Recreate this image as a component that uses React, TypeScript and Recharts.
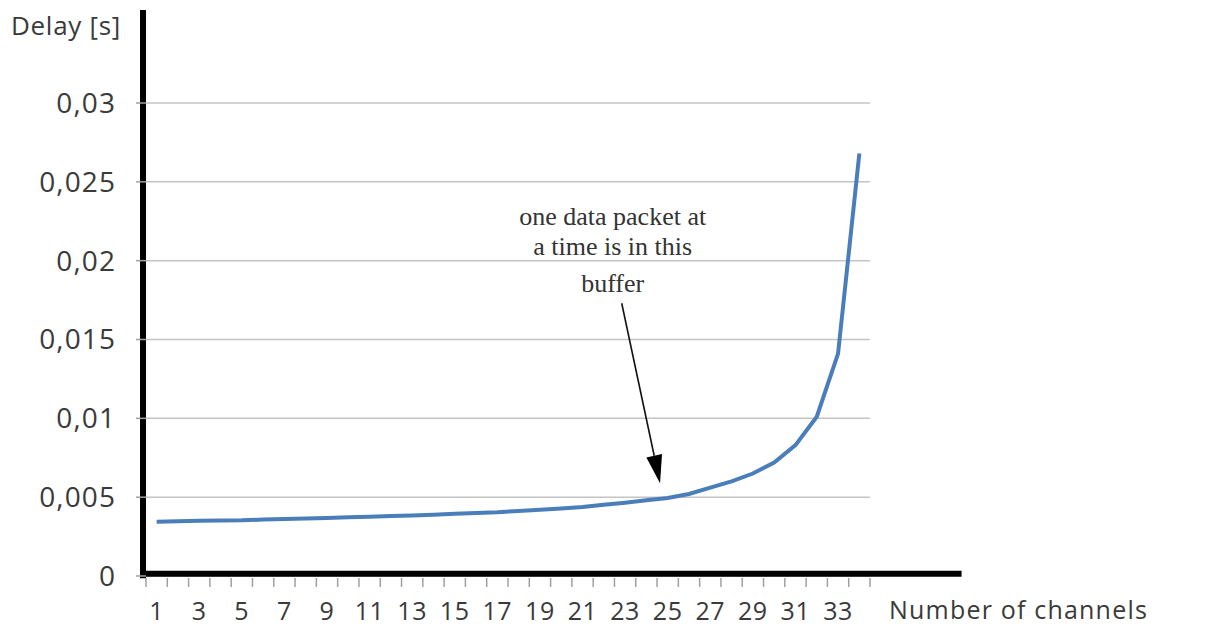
import React from "react";
import {
  LineChart,
  Line,
  XAxis,
  YAxis,
  CartesianGrid,
  ReferenceLine,
  Label,
} from "recharts";

// number of channels (categories) and measured delay in seconds
const CHANNELS = [
  1, 2, 3, 4, 5, 6, 7, 8, 9, 10, 11, 12, 13, 14, 15, 16, 17,
  18, 19, 20, 21, 22, 23, 24, 25, 26, 27, 28, 29, 30, 31, 32, 33, 34,
];
const DELAY = [
  0.00344, 0.00348, 0.0035, 0.00352, 0.00353, 0.00358, 0.00362, 0.00365,
  0.00368, 0.00372, 0.00376, 0.0038, 0.00384, 0.00389, 0.00395, 0.004,
  0.00405, 0.00413, 0.0042, 0.00428, 0.00437, 0.00452, 0.00465, 0.0048,
  0.00495, 0.0052, 0.0056, 0.006, 0.0065, 0.0072, 0.0083, 0.0101, 0.0141,
  0.0268,
];
const Y_TICKS = [0, 0.005, 0.01, 0.015, 0.02, 0.025, 0.03];
const NOTE_LINES = ["one data packet at", "a time is in this", "buffer"];

const data = CHANNELS.map((ch, i) => ({ ch, delay: DELAY[i] }));

// tick marks sit between categories, labels on odd channel numbers
const xTicks: number[] = [CHANNELS[0] - 0.5];
CHANNELS.forEach((c) => xTicks.push(c, c + 0.5));

const TEXT = "#3a3a3a";
const AXIS_FONT = "'Open Sans', sans-serif";

function XTick(props: any) {
  const { x, y, payload } = props;
  const v = payload.value;
  if (!Number.isInteger(v)) {
    return <line x1={x} x2={x} y1={y + 2} y2={y + 11} stroke="#a0a0a0" strokeWidth={1.5} />;
  }
  if (v % 2 === 0) return <g />;
  return (
    <text
      x={x}
      y={y + 44}
      textAnchor="middle"
      fill={TEXT}
      fontSize={25}
      fontFamily={AXIS_FONT}
      letterSpacing={0.6}
    >
      {v}
    </text>
  );
}

function ArrowNote(props: any) {
  const { x1, y1, x2, y2 } = props;
  const dx = x2 - x1;
  const dy = y2 - y1;
  const len = Math.sqrt(dx * dx + dy * dy);
  const ux = dx / len;
  const uy = dy / len;
  const headLen = 28;
  const half = 8;
  const bx = x2 - ux * headLen;
  const by = y2 - uy * headLen;
  const baseline = [-78, -48, -11];
  return (
    <g>
      <line x1={x1} y1={y1} x2={bx} y2={by} stroke="#111" strokeWidth={1.6} />
      <polygon
        points={`${x2},${y2} ${bx - uy * half},${by + ux * half} ${bx + uy * half},${by - ux * half}`}
        fill="#000"
      />
      {NOTE_LINES.map((t, i) => (
        <text
          key={t}
          x={x1 - 9}
          y={y1 + baseline[i]}
          textAnchor="middle"
          fill="#333"
          fontSize={26}
          fontFamily="'Liberation Serif', serif"
        >
          {t}
        </text>
      ))}
    </g>
  );
}

export default function App() {
  return (
    <div style={{ position: "absolute", left: 0, top: 0, background: "#fff" }}>
      <LineChart
        width={1209}
        height={640}
        data={data}
        margin={{ top: 103, right: 339, bottom: 0, left: 0 }}
      >
        <CartesianGrid vertical={false} stroke="#c4c4c4" strokeWidth={1.5} />
        <XAxis
          dataKey="ch"
          type="number"
          domain={[0.5, 34.5]}
          ticks={xTicks}
          interval={0}
          height={64}
          tickLine={false}
          axisLine={false}
          tickSize={0}
          tickMargin={0}
          tick={<XTick />}
        >
          <Label
            content={(p: any) => (
              <text
                x={p.viewBox.x + p.viewBox.width + 19}
                y={p.viewBox.y + 43}
                fill={TEXT}
                fontSize={25}
                fontFamily={AXIS_FONT}
                letterSpacing={1.2}
              >
                Number of channels
              </text>
            )}
          />
        </XAxis>
        <YAxis
          width={146}
          domain={[0, 0.03]}
          ticks={Y_TICKS}
          interval={0}
          axisLine={false}
          tickSize={10}
          tickMargin={20}
          tickLine={{ stroke: "#a0a0a0", strokeWidth: 1.5 }}
          tick={{ fill: TEXT, fontSize: 28, fontFamily: AXIS_FONT, letterSpacing: 1.1 }}
          tickFormatter={(v: number) => String(v).replace(".", ",")}
        >
          <Label
            content={(p: any) => (
              <text
                x={p.viewBox.x + 11}
                y={p.viewBox.y - 68}
                fill={TEXT}
                fontSize={26}
                fontFamily={AXIS_FONT}
                letterSpacing={0.7}
              >
                Delay [s]
              </text>
            )}
          />
        </YAxis>
        <Line
          type="linear"
          dataKey="delay"
          stroke="#4a7ebb"
          strokeWidth={4}
          dot={false}
          isAnimationActive={false}
        />
        <ReferenceLine
          segment={[
            { x: 0.36, y: -0.00015 },
            { x: 0.36, y: 0.0359 },
          ]}
          stroke="#000"
          strokeWidth={6}
          ifOverflow="visible"
        />
        <ReferenceLine
          segment={[
            { x: 0.26, y: 0.00014 },
            { x: 38.8, y: 0.00014 },
          ]}
          stroke="#000"
          strokeWidth={6}
          ifOverflow="visible"
        />
        <ReferenceLine
          segment={[
            { x: 22.84, y: 0.0173 },
            { x: 24.64, y: 0.00589 },
          ]}
          ifOverflow="visible"
          shape={<ArrowNote />}
        />
      </LineChart>
    </div>
  );
}
